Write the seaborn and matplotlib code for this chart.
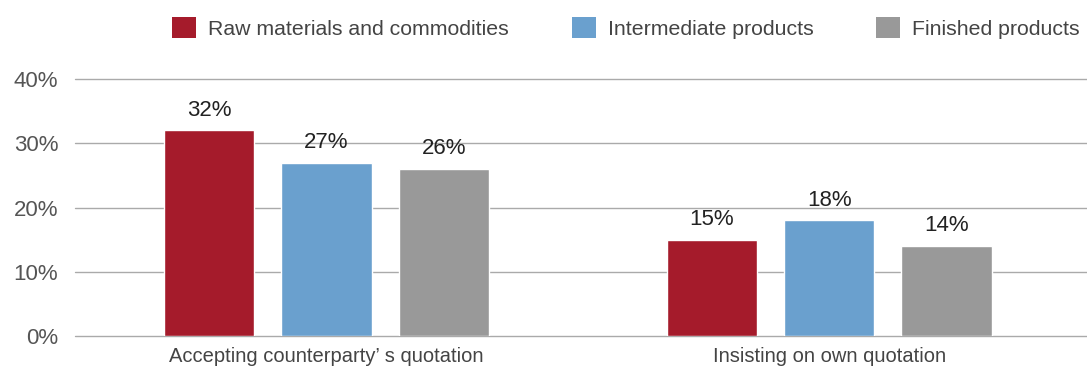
import matplotlib
matplotlib.use("Agg")
import matplotlib.pyplot as plt
import seaborn as sns
import pandas as pd
from matplotlib.patches import Patch

categories = ["Accepting counterparty\u2019 s quotation", "Insisting on own quotation"]
series = ["Raw materials and commodities", "Intermediate products", "Finished products"]
raw_materials = [32, 15]
intermediate = [27, 18]
finished = [26, 14]
yticks = [0, 10, 20, 30, 40]
colors = ["#A51B2B", "#6AA0CE", "#999999"]

values = {
    series[0]: raw_materials,
    series[1]: intermediate,
    series[2]: finished,
}
rows = []
for s in series:
    for c, v in zip(categories, values[s]):
        rows.append({"category": c, "series": s, "value": v})
df = pd.DataFrame(rows)

sns.set_theme(style="white")
plt.rcParams["font.family"] = ["Liberation Sans", "DejaVu Sans"]

fig = plt.figure(figsize=(10.87, 3.68), dpi=100)
ax = fig.add_axes([0.069, 0.087, 0.931, 0.698])

sns.barplot(data=df, x="category", y="value", hue="series",
            palette=colors, width=0.7, gap=0.23, saturation=1,
            legend=False, ax=ax, errorbar=None)

for container in ax.containers:
    ax.bar_label(container, labels=[f"{int(round(b.get_height()))}%" for b in container],
                 padding=7, fontsize=16, color="#222222")

ax.set_ylim(0, 40)
ax.set_xlim(-0.5, 1.513)
ax.set_yticks(yticks)
ax.set_yticklabels([f"{t}%" for t in yticks])
ax.yaxis.grid(True, color="#AAAAAA", linewidth=1)
for gl in ax.get_ygridlines():
    gl.set_clip_on(False)
ax.set_axisbelow(True)
for sp in ax.spines.values():
    sp.set_visible(False)
ax.tick_params(axis="y", length=0, pad=12, labelsize=16, labelcolor="#555555")
ax.tick_params(axis="x", length=0, pad=8, labelsize=14.5, labelcolor="#444444")
ax.set_xlabel("")
ax.set_ylabel("")

handles = [Patch(facecolor=c, edgecolor="none") for c in colors]
fig.legend(handles, series, loc="center right", bbox_to_anchor=(1080 / 1087, 1 - 28 / 368),
           ncol=3, frameon=False, fontsize=15.3, labelcolor="#444444",
           handlelength=1.13, handleheight=1.15, handletextpad=0.56,
           columnspacing=2.97, borderaxespad=0, borderpad=0)

fig.savefig("out.png", dpi=100)
